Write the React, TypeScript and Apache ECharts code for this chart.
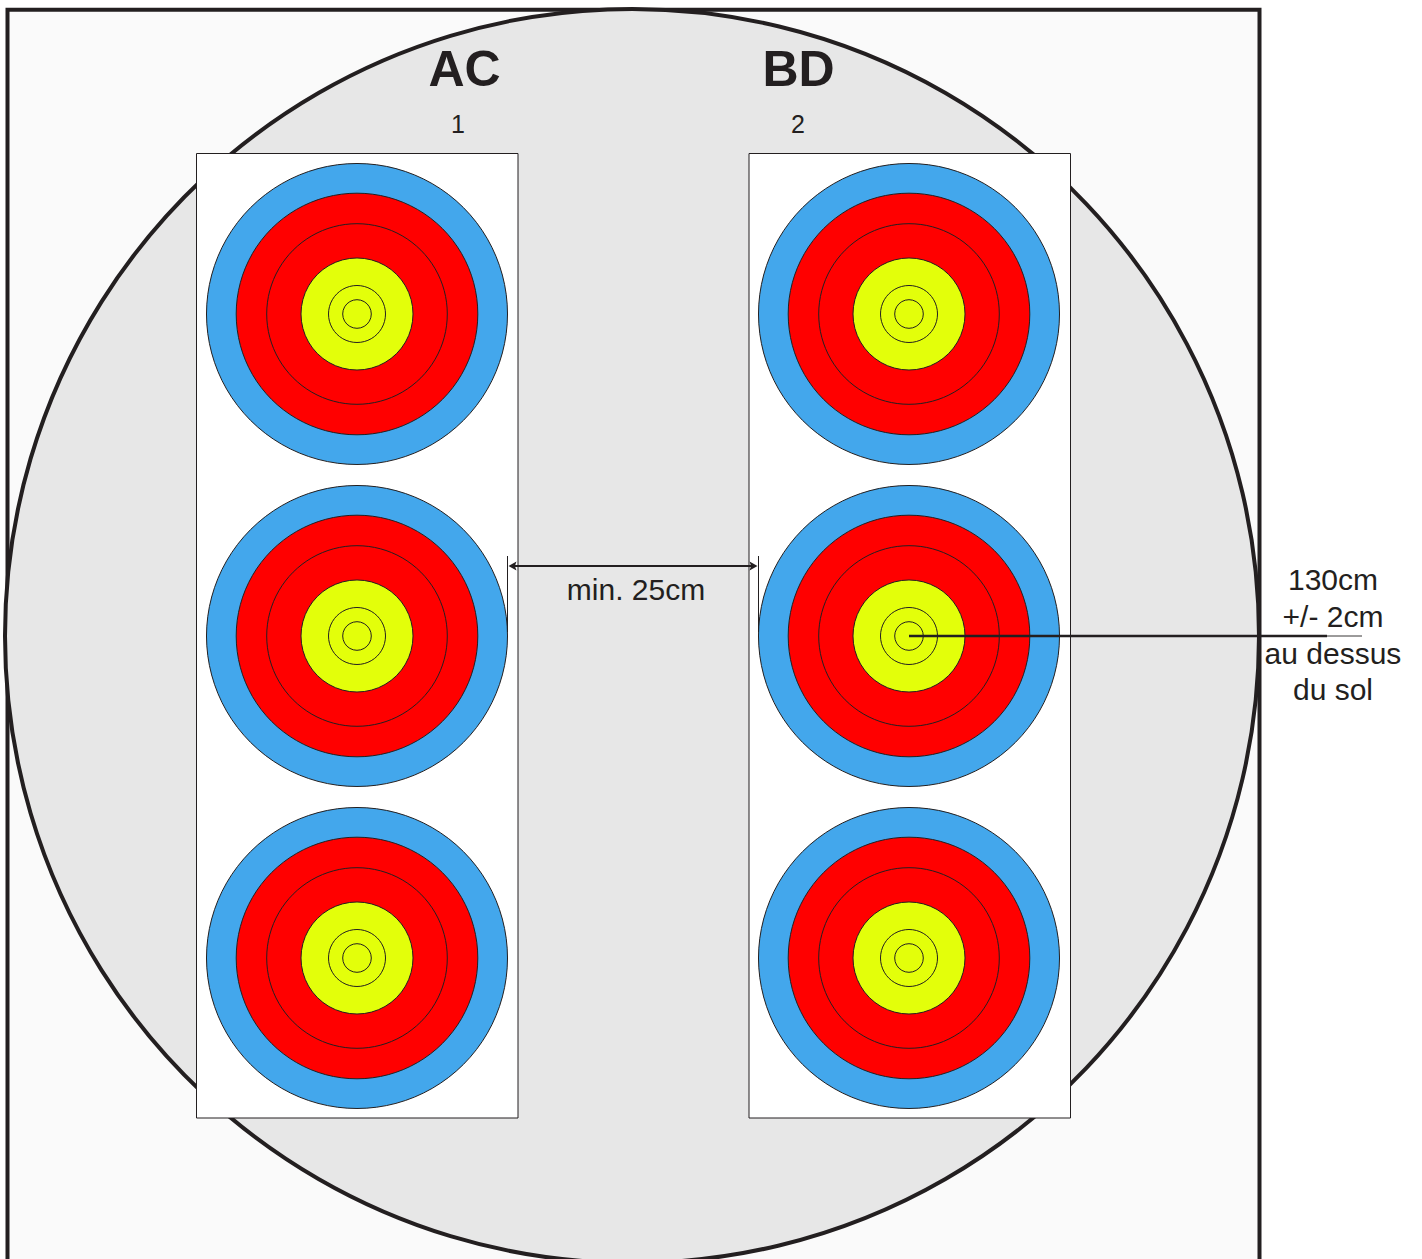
import React, { useEffect, useRef } from "react";
import * as echarts from "echarts";

const INK = "#231f20";
const FONT = '"Liberation Sans", Arial, sans-serif';

const columnsX = [357, 909];
const rowsY = [314, 636, 958];
const ringRadii = [150.5, 120.8, 90.3, 56, 28.5, 14.3];
const ringFills = ["#43a7ec", "#ff0000", "#ff0000", "#e3ff0a", "#e3ff0a", "#e3ff0a"];
const panelsX = [[196.5, 518], [749, 1070.5]];
const panelY = [153.5, 1118];
const wall = [7.5, 9.7, 1259.5, 1290];
const circle = [632, 636, 627];
const labels = [
  ["AC", 464.5, 69, "bold", 50],
  ["BD", 798.5, 69, "bold", 50],
  ["1", 458, 123.5, "normal", 25],
  ["2", 798, 123.5, "normal", 25],
  ["min. 25cm", 636, 589.5, "normal", 30],
  ["130cm", 1333, 579.5, "normal", 30],
  ["+/- 2cm", 1333, 616.5, "normal", 30],
  ["au dessus", 1333, 653, "normal", 30],
  ["du sol", 1333, 689.5, "normal", 30],
];
const segments = [
  [507.5, 556, 507.5, 632, 1],
  [758.5, 556, 758.5, 632, 1],
  [514, 566, 752, 566, 2],
  [909, 636, 1327, 636, 2.4],
  [1327, 636, 1362, 636, 0.9],
];
const arrowHeads = [
  [508.5, 566, 8],
  [757.5, 566, -8],
];

export default function App() {
  const ref = useRef<HTMLDivElement>(null);
  useEffect(() => {
    const chart = echarts.init(ref.current!, null, { renderer: "svg" });
    const targets: number[][] = [];
    columnsX.forEach((x) => rowsY.forEach((y) => targets.push([x, y])));
    const rings = targets.flatMap(([x, y]) => ringRadii.map((r, i) => [x, y, r, i]));

    const layer = (name: string, z: number, data: any[], renderItem: any) => ({
      name,
      type: "custom",
      coordinateSystem: "cartesian2d",
      silent: true,
      clip: false,
      z,
      data,
      encode: { x: 0, y: 1 },
      renderItem,
    });

    chart.setOption({
      animation: false,
      backgroundColor: "#ffffff",
      tooltip: { show: false },
      grid: { left: 0, right: 0, top: 0, bottom: 0 },
      xAxis: { type: "value", min: 0, max: 1422, show: false },
      yAxis: { type: "value", min: 0, max: 1259, inverse: true, show: false },
      series: [
        layer("wall", 1, [wall], (_: any, api: any) => {
          const a = api.coord([api.value(0), api.value(1)]);
          const b = api.coord([api.value(2), api.value(3)]);
          return {
            type: "rect",
            shape: { x: a[0], y: a[1], width: b[0] - a[0], height: b[1] - a[1] },
            style: { fill: "#fafafa", stroke: INK, lineWidth: 4 },
          };
        }),
        layer("butt", 2, [circle], (_: any, api: any) => {
          const c = api.coord([api.value(0), api.value(1)]);
          return {
            type: "circle",
            shape: { cx: c[0], cy: c[1], r: api.size([api.value(2), 0])[0] },
            style: { fill: "#e7e7e7", stroke: INK, lineWidth: 4 },
          };
        }),
        layer("panels", 3, panelsX.map((p) => [p[0], panelY[0], p[1], panelY[1]]), (_: any, api: any) => {
          const a = api.coord([api.value(0), api.value(1)]);
          const b = api.coord([api.value(2), api.value(3)]);
          return {
            type: "rect",
            shape: { x: a[0], y: a[1], width: b[0] - a[0], height: b[1] - a[1] },
            style: { fill: "#ffffff", stroke: INK, lineWidth: 1 },
          };
        }),
        layer("rings", 4, rings, (_: any, api: any) => {
          const c = api.coord([api.value(0), api.value(1)]);
          return {
            type: "circle",
            shape: { cx: c[0], cy: c[1], r: api.size([api.value(2), 0])[0] },
            style: { fill: ringFills[api.value(3)], stroke: INK, lineWidth: 1 },
          };
        }),
        layer("segments", 5, segments, (_: any, api: any) => {
          const a = api.coord([api.value(0), api.value(1)]);
          const b = api.coord([api.value(2), api.value(3)]);
          return {
            type: "line",
            shape: { x1: a[0], y1: a[1], x2: b[0], y2: b[1] },
            style: { stroke: INK, lineWidth: api.value(4) },
          };
        }),
        layer("arrows", 6, arrowHeads, (_: any, api: any) => {
          const [x, y] = api.coord([api.value(0), api.value(1)]);
          const len = api.value(2);
          return {
            type: "polygon",
            shape: { points: [[x, y], [x + len, y - 4.5], [x + len * 0.8, y], [x + len, y + 4.5]] },
            style: { fill: INK },
          };
        }),
        layer("labels", 7, labels.map((l) => [l[1], l[2], l[0], l[3], l[4]]), (_: any, api: any) => {
          const [x, y] = api.coord([api.value(0), api.value(1)]);
          return {
            type: "text",
            style: {
              x,
              y,
              text: String(api.value(2)),
              fill: INK,
              fontFamily: FONT,
              fontWeight: String(api.value(3)),
              fontSize: api.value(4),
              textAlign: "center",
              textVerticalAlign: "middle",
            },
          };
        }),
      ],
    });
    return () => chart.dispose();
  }, []);
  return <div ref={ref} style={{ position: "absolute", left: 0, top: 0, width: 1422, height: 1259 }} />;
}
